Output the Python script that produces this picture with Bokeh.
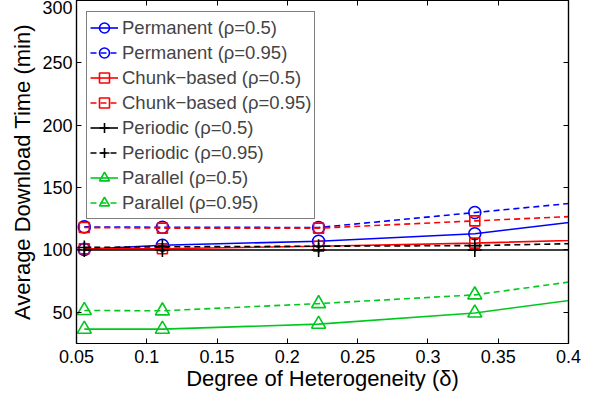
from bokeh.plotting import figure
from bokeh.models import LinearAxis, FixedTicker, Range1d, CustomLabelingPolicy
from bokeh.embed import file_html
from bokeh.resources import INLINE

# data
x = [1/18, 1/9, 2/9, 1/3, 4/9]
perm_05 = [100.5, 103.8, 107.0, 113.0, 128.0]
perm_095 = [118.5, 118.2, 118.0, 130.0, 142.0]
chunk_05 = [101.0, 101.0, 103.0, 105.5, 109.0]
chunk_095 = [118.0, 117.5, 117.5, 123.3, 129.0]
periodic_05 = [100.0, 100.0, 100.0, 100.0, 100.0]
periodic_095 = [102.0, 102.5, 103.0, 103.5, 106.0]
parallel_05 = [36.5, 36.5, 40.5, 49.5, 66.0]
parallel_095 = [51.5, 51.2, 57.0, 64.0, 81.0]

x_ticks = [0.05, 0.1, 0.15, 0.2, 0.25, 0.3, 0.35, 0.4]
y_ticks = [50, 100, 150, 200, 250, 300]

FONT = "Liberation Sans"
BLUE, RED, BLACK, GREEN = "#0000ff", "#ff0000", "#000000", "#00c81e"

p = figure(width=595, height=396, output_backend="svg", toolbar_location=None,
           x_range=Range1d(0.05, 0.4), y_range=Range1d(25, 300),
           min_border_left=76, min_border_right=27, min_border_top=0, min_border_bottom=53)
p.grid.visible = False
p.outline_line_color = "black"
p.outline_line_width = 1.2

for ax in [p.xaxis[0], p.yaxis[0]]:
    ax.major_tick_in = 5
    ax.major_tick_out = 0
    ax.minor_tick_line_color = None
    ax.major_label_text_font = FONT
    ax.major_label_text_font_size = "18px"
    ax.major_label_text_color = "black"
    ax.axis_label_text_font = FONT
    ax.axis_label_text_font_size = "22px"
    ax.axis_label_text_font_style = "normal"
    ax.axis_label_text_color = "black"
    ax.axis_line_width = 1.2
p.xaxis[0].ticker = FixedTicker(ticks=x_ticks)
p.yaxis[0].ticker = FixedTicker(ticks=y_ticks)
p.xaxis[0].axis_label = "Degree of Heterogeneity (δ)"
p.yaxis[0].axis_label = "Average Download Time (min)"
p.xaxis[0].major_label_standoff = 6
p.xaxis[0].axis_label_standoff = 0
p.yaxis[0].major_label_standoff = 4
p.yaxis[0].axis_label_standoff = 4

no_labels = CustomLabelingPolicy(code="""
try { for (let i = 0; i < indices.size; i++) { indices.unset(i) } } catch (e) {}
return indices
""")
top = LinearAxis(ticker=FixedTicker(ticks=x_ticks), major_tick_in=5, major_tick_out=0,
                 minor_tick_line_color=None, major_label_policy=no_labels,
                 major_label_text_font_size="0px",
                 major_label_standoff=0, axis_line_width=1.2)
right = LinearAxis(ticker=FixedTicker(ticks=y_ticks), major_tick_in=5, major_tick_out=0,
                   minor_tick_line_color=None, major_label_policy=no_labels,
                   major_label_text_font_size="0px",
                   major_label_standoff=0, axis_line_width=1.2)
p.add_layout(top, "above")
p.add_layout(right, "right")

series = [
    ("Permanent (ρ=0.5)", perm_05, BLUE, "solid", "circle", 12),
    ("Permanent (ρ=0.95)", perm_095, BLUE, "6 4", "circle", 12),
    ("Chunk−based (ρ=0.5)", chunk_05, RED, "solid", "square", 10),
    ("Chunk−based (ρ=0.95)", chunk_095, RED, "6 4", "square", 10),
    ("Periodic (ρ=0.5)", periodic_05, BLACK, "solid", "cross", 14),
    ("Periodic (ρ=0.95)", periodic_095, BLACK, "6 4", "cross", 14),
    ("Parallel (ρ=0.5)", parallel_05, GREEN, "solid", "triangle", 14),
    ("Parallel (ρ=0.95)", parallel_095, GREEN, "6 4", "triangle", 14),
]
for label, ys, color, dash, marker, size in series:
    p.line(x, ys, line_color=color, line_width=1.6, line_dash=dash, legend_label=label)
    p.scatter(x, ys, marker=marker, size=size, line_color=color, fill_color=None,
              line_width=1.6, legend_label=label)

lg = p.legend[0]
lg.location = (10, 124)
lg.margin = 0
lg.padding = 3
lg.spacing = 0
lg.glyph_width = 28
lg.glyph_height = 25
lg.label_height = 25
lg.label_standoff = 4
lg.label_text_font = FONT
lg.label_text_font_size = "18.5px"
lg.border_line_color = "black"
lg.border_line_width = 1.2
lg.background_fill_alpha = 1

open("out.html", "w").write(file_html(p, INLINE))
